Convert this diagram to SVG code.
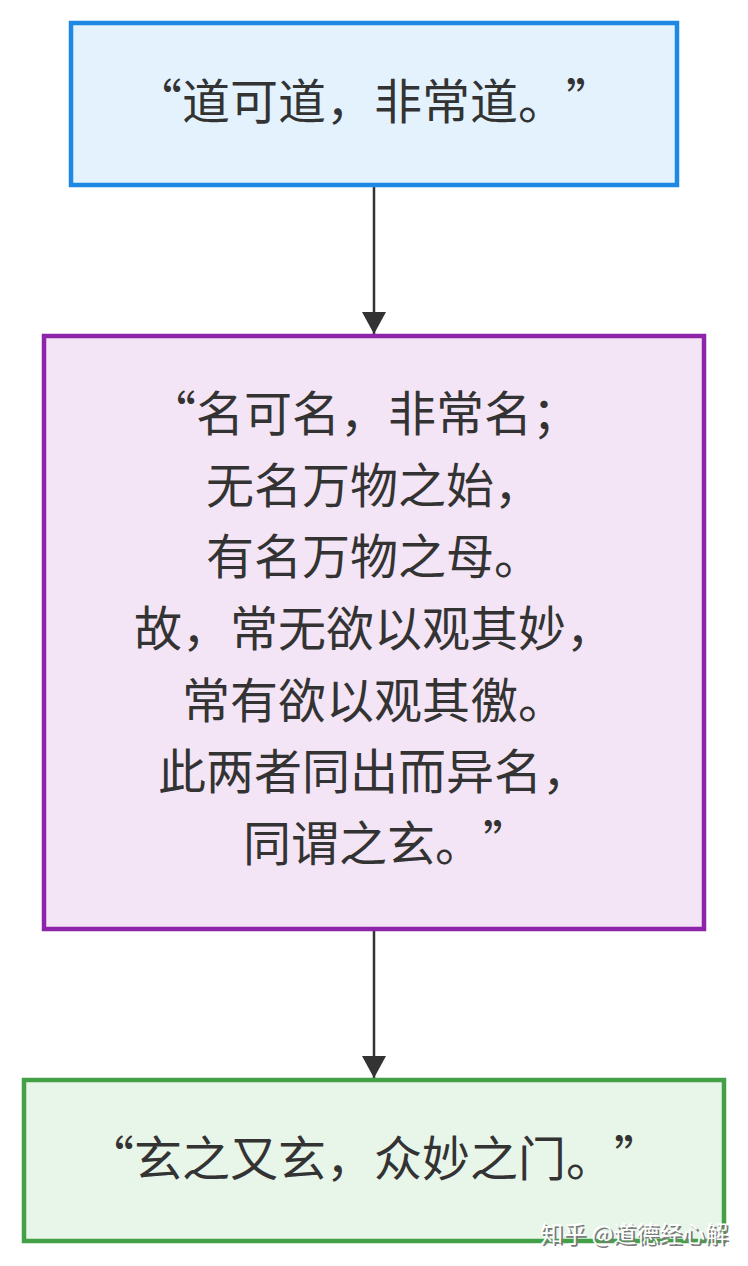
<svg xmlns="http://www.w3.org/2000/svg" width="748" height="1266" viewBox="0 0 748 1266">
<defs>
<style>
.t{font-family:"Noto Sans CJK SC","Noto Sans",sans-serif;font-size:48px;fill:#333333;text-anchor:middle;text-spacing-trim:space-all}
.c{stroke:#333333;stroke-width:2.5;fill:none}
.wm{font-family:"Noto Sans CJK SC",sans-serif;font-size:23px;text-anchor:end;text-spacing-trim:space-all}
</style>
<marker id="ah" markerUnits="userSpaceOnUse" markerWidth="24" markerHeight="24" refX="22" refY="12" orient="auto" viewBox="0 0 24 24">
<path d="M0,0 L22,12 L0,24 Z" fill="#333333"/>
</marker>
</defs>
<rect width="748" height="1266" fill="#ffffff"/>
<g id="connectors">
<line class="c" x1="374" y1="187" x2="374" y2="334" marker-end="url(#ah)"/>
<line class="c" x1="374" y1="931" x2="374" y2="1078" marker-end="url(#ah)"/>
</g>
<g id="node1">
<rect x="71" y="23" width="606" height="162" fill="#e3f2fd" stroke="#1e88e5" stroke-width="4.5"/>
<text class="t" x="374" y="119">“道可道，非常道。”</text>
</g>
<g id="node2">
<rect x="44" y="336" width="660" height="593" fill="#f3e5f5" stroke="#8e24aa" stroke-width="4.5"/>
<text class="t" x="364" y="431">“名可名，非常名；</text>
<text class="t" x="374" y="503">无名万物之始，</text>
<text class="t" x="374" y="574">有名万物之母。</text>
<text class="t" x="374" y="646">故，常无欲以观其妙，</text>
<text class="t" x="374" y="718">常有欲以观其徼。</text>
<text class="t" x="374" y="789">此两者同出而异名，</text>
<text class="t" x="387" y="861">同谓之玄。”</text>
</g>
<g id="node3">
<rect x="24" y="1080" width="700" height="161" fill="#e8f5e9" stroke="#43a047" stroke-width="4.5"/>
<text class="t" x="374" y="1176">“玄之又玄，众妙之门。”</text>
</g>
<g id="watermark">
<text class="wm" x="730" y="1244" fill="#7a7a7a">知乎 @道德经心解</text>
<text class="wm" x="728" y="1242" fill="#ffffff">知乎 @道德经心解</text>
</g>
</svg>
